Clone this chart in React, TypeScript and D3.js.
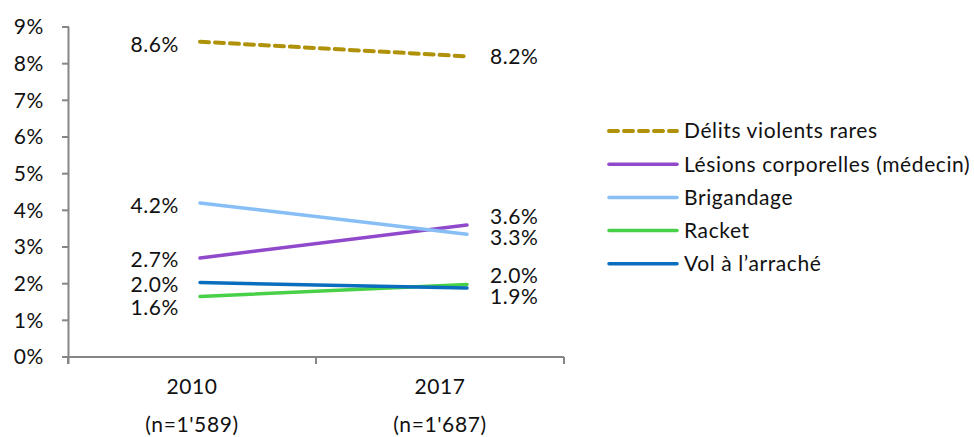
import React from "react";
import * as d3 from "d3";

const years = ["2010", "2017"];
const sampleSizes = ["(n=1'589)", "(n=1'687)"];
const seriesNames = [
  "Délits violents rares",
  "Lésions corporelles (médecin)",
  "Brigandage",
  "Racket",
  "Vol à l’arraché",
];
const delits = [8.6, 8.2];
const lesions = [2.7, 3.6];
const brigandage = [4.2, 3.35];
const racket = [1.65, 1.98];
const vol = [2.03, 1.88];
const valueLabels = [
  ["8.6%", "8.2%"],
  ["2.7%", "3.6%"],
  ["4.2%", "3.3%"],
  ["1.6%", "2.0%"],
  ["2.0%", "1.9%"],
];
const yTicks = [0, 1, 2, 3, 4, 5, 6, 7, 8, 9];

const colors = ["#B0920A", "#9149CB", "#86BEF5", "#48D048", "#0B6DBD"];
const dashed = [true, false, false, false, false];
// label vertical nudges (px) [left, right]
const nudges = [
  [3, 0],
  [2, -8],
  [3, 3],
  [11, -9],
  [2, 9],
];

export default function App() {
  const W = 974, H = 437;
  const allSeries = [delits, lesions, brigandage, racket, vol];
  const y = d3.scaleLinear().domain([0, 9]).range([357, 27]);
  const xBand = d3.scaleBand().domain(years).range([68, 564]);
  const xPt = d3.scalePoint().domain(years).range([200, 467]);
  const line = d3
    .line<number>()
    .x((_, i) => xPt(years[i]) as number)
    .y((d) => y(d));
  const font = "Lato, 'Open Sans', sans-serif";
  const fs = 21;
  const ls = 0.6;
  const axisColor = "#868686";

  return (
    <svg width={W} height={H} style={{ position: "absolute", left: 0, top: 0, fontFamily: font, letterSpacing: ls }}>
      <rect width={W} height={H} fill="#fff" />
      {/* y axis */}
      <line x1={68.5} x2={68.5} y1={y(9)} y2={y(0) + 7} stroke={axisColor} strokeWidth={2} />
      {yTicks.map((t) => (
        <g key={t}>
          <line x1={62} x2={69} y1={y(t)} y2={y(t)} stroke={axisColor} strokeWidth={2} />
          <text x={44} y={y(t)} dy="0.35em" textAnchor="end" fontSize={fs} fill="#111">
            {t}%
          </text>
        </g>
      ))}
      {/* x axis */}
      <line x1={62} x2={564} y1={y(0)} y2={y(0)} stroke={axisColor} strokeWidth={2} />
      {[...years.map((c) => xBand(c) as number), xBand.range()[1]].map((xx, i) => (
        <line key={i} x1={xx} x2={xx} y1={y(0)} y2={y(0) + 7} stroke={axisColor} strokeWidth={2} />
      ))}
      {years.map((c, i) => (
        <g key={c}>
          <text x={(xBand(c) as number) + xBand.bandwidth() / 2} y={387} dy="0.35em" textAnchor="middle" fontSize={fs} fill="#111">
            {c}
          </text>
          <text x={(xBand(c) as number) + xBand.bandwidth() / 2} y={425} dy="0.35em" textAnchor="middle" fontSize={fs} fill="#111">
            {sampleSizes[i]}
          </text>
        </g>
      ))}
      {/* lines */}
      {allSeries.map((s, i) => (
        <path
          key={i}
          d={line(s) as string}
          fill="none"
          stroke={colors[i]}
          strokeWidth={dashed[i] ? 4 : 3.5}
          strokeDasharray={dashed[i] ? "9 6" : undefined}
          strokeLinecap="round"
        />
      ))}
      {/* value labels */}
      {allSeries.map((s, i) => (
        <g key={i}>
          <text x={179} y={y(s[0]) + nudges[i][0]} dy="0.35em" textAnchor="end" fontSize={fs} fill="#111">
            {valueLabels[i][0]}
          </text>
          <text x={490} y={y(s[1]) + nudges[i][1]} dy="0.35em" textAnchor="start" fontSize={fs} fill="#111">
            {valueLabels[i][1]}
          </text>
        </g>
      ))}
      {/* legend */}
      {seriesNames.map((n, i) => {
        const ly = 131 + i * 33.2;
        return (
          <g key={n}>
            <line
              x1={609}
              x2={677}
              y1={ly}
              y2={ly}
              stroke={colors[i]}
              strokeWidth={dashed[i] ? 4 : 3.5}
              strokeDasharray={dashed[i] ? "9 6" : undefined}
              strokeLinecap="round"
            />
            <text x={684} y={ly} dy="0.35em" fontSize={fs} fill="#111">
              {n}
            </text>
          </g>
        );
      })}
    </svg>
  );
}
